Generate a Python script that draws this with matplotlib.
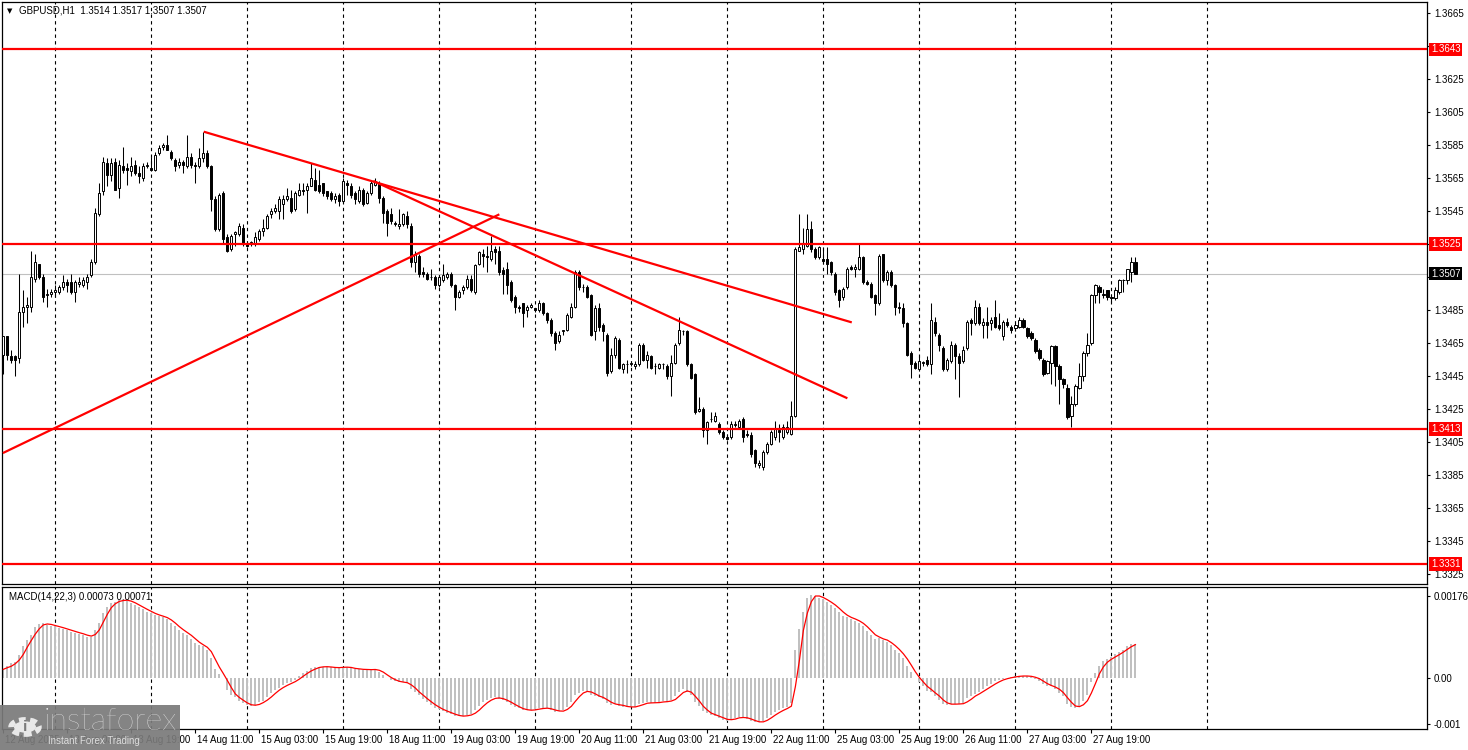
import numpy as np
import pandas as pd
import matplotlib
matplotlib.use('Agg')
import matplotlib.pyplot as plt
import matplotlib.transforms as mtrans
from matplotlib.patches import Rectangle, Circle

plt.rcParams['font.family'] = ['Liberation Sans', 'DejaVu Sans']

# GBPUSD H1, prices as points above 1.3000 (one point = 0.0001)
base = 1.3
open_pts = [
    458, 469, 457, 457, 456, 484, 487, 487, 504, 513, 505, 494, 495, 496, 496, 499, 502, 502, 496, 501,
    500, 502, 506, 514, 543, 557, 574, 567, 575, 559, 572, 571, 569, 573, 568, 565, 572, 571, 570, 580,
    584, 585, 581, 576, 573, 575, 572, 578, 573, 572, 577, 580, 572, 552, 534, 556, 529, 522, 531, 531,
    535, 525, 525, 525, 528, 533, 535, 543, 545, 545, 549, 552, 553, 546, 555, 558, 558, 560, 564, 561,
    562, 557, 556, 552, 555, 551, 562, 560, 556, 551, 558, 550, 556, 561, 562, 553, 545, 543, 538, 536,
    537, 542, 536, 514, 518, 508, 507, 505, 505, 500, 503, 505, 507, 500, 493, 497, 499, 504, 496, 513,
    519, 518, 516, 522, 521, 509, 510, 502, 493, 487, 489, 485, 487, 486, 485, 489, 483, 479, 471, 466,
    472, 473, 481, 487, 508, 499, 499, 494, 472, 486, 476, 470, 448, 458, 467, 449, 452, 452, 451, 452,
    464, 455, 457, 451, 450, 452, 451, 445, 453, 465, 472, 472, 452, 446, 424, 425, 412, 419, 418, 416,
    411, 408, 408, 415, 414, 419, 410, 409, 400, 391, 390, 399, 404, 408, 412, 408, 411, 410, 421, 521,
    522, 524, 534, 522, 517, 516, 516, 514, 507, 497, 493, 499, 511, 510, 510, 517, 502, 501, 494, 489,
    519, 503, 508, 500, 487, 486, 477, 459, 453, 449, 453, 455, 452, 478, 470, 462, 449, 454, 464, 457,
    454, 462, 479, 477, 487, 476, 478, 477, 481, 476, 469, 478, 475, 474, 475, 479, 474, 471, 467, 461,
    455, 447, 453, 463, 451, 443, 438, 421, 428, 438, 445, 459, 465, 494, 499, 494, 497, 493, 492, 496,
    503, 503, 508, 514]
high_pts = [
    469, 469, 461, 458, 507, 497, 493, 521, 519, 513, 507, 498, 498, 500, 500, 506, 504, 507, 503, 505,
    505, 507, 516, 547, 562, 578, 577, 577, 577, 576, 584, 574, 578, 576, 572, 574, 575, 578, 581, 585,
    586, 591, 582, 577, 577, 576, 591, 580, 575, 583, 593, 582, 573, 554, 556, 557, 531, 531, 533, 538,
    537, 527, 527, 532, 534, 540, 543, 547, 549, 554, 555, 559, 558, 557, 562, 562, 562, 574, 571, 570,
    562, 557, 557, 556, 556, 565, 564, 562, 557, 560, 559, 557, 564, 565, 563, 554, 546, 547, 539, 546,
    544, 545, 538, 521, 519, 511, 508, 510, 506, 506, 513, 508, 508, 501, 497, 500, 506, 506, 513, 521,
    522, 524, 530, 524, 524, 511, 514, 503, 494, 488, 489, 488, 489, 486, 491, 490, 484, 480, 472, 472,
    473, 483, 489, 509, 509, 501, 500, 495, 488, 489, 477, 471, 462, 469, 468, 453, 455, 454, 454, 465,
    465, 460, 458, 453, 453, 453, 452, 458, 465, 481, 473, 473, 453, 447, 432, 426, 418, 423, 423, 417,
    412, 410, 418, 418, 419, 420, 412, 411, 401, 394, 400, 405, 412, 418, 416, 416, 418, 430, 523, 543,
    535, 543, 539, 523, 524, 523, 523, 515, 508, 498, 499, 511, 512, 513, 525, 518, 503, 502, 495, 519,
    519, 509, 509, 501, 490, 489, 478, 460, 454, 458, 454, 457, 489, 481, 471, 463, 456, 466, 465, 459,
    463, 479, 480, 491, 489, 480, 487, 481, 491, 483, 479, 480, 476, 477, 481, 480, 475, 472, 468, 462,
    456, 455, 464, 464, 452, 444, 440, 433, 440, 453, 460, 471, 495, 501, 500, 498, 497, 495, 499, 504,
    504, 510, 517, 517]
low_pts = [
    446, 455, 453, 445, 453, 475, 477, 484, 502, 504, 490, 487, 493, 493, 495, 497, 496, 495, 490, 499,
    499, 498, 505, 513, 542, 555, 560, 563, 558, 553, 568, 561, 566, 567, 562, 563, 571, 569, 569, 579,
    582, 582, 576, 569, 571, 568, 571, 571, 562, 571, 575, 571, 545, 533, 533, 525, 520, 521, 524, 530,
    524, 523, 524, 524, 527, 530, 534, 541, 544, 540, 540, 551, 544, 545, 554, 555, 544, 560, 557, 556,
    554, 552, 551, 550, 548, 550, 555, 553, 549, 550, 548, 549, 555, 560, 550, 538, 530, 537, 536, 534,
    536, 535, 511, 508, 505, 505, 503, 503, 498, 499, 502, 504, 499, 485, 492, 495, 498, 496, 495, 512,
    511, 508, 515, 513, 506, 495, 495, 490, 483, 484, 475, 481, 486, 484, 484, 482, 477, 469, 461, 465,
    470, 472, 480, 486, 497, 496, 492, 469, 467, 472, 466, 445, 447, 456, 449, 447, 447, 451, 449, 451,
    454, 450, 449, 446, 449, 449, 443, 433, 452, 464, 470, 451, 443, 422, 423, 408, 404, 417, 417, 410,
    407, 406, 407, 414, 413, 405, 408, 396, 390, 389, 388, 398, 403, 406, 405, 407, 410, 409, 420, 521,
    519, 523, 520, 516, 516, 513, 507, 506, 494, 487, 491, 498, 509, 505, 509, 501, 500, 492, 482, 488,
    502, 500, 499, 482, 483, 475, 457, 444, 449, 448, 451, 451, 446, 469, 460, 448, 448, 453, 443, 432,
    453, 461, 470, 476, 476, 468, 468, 473, 474, 473, 467, 475, 471, 472, 474, 474, 468, 467, 459, 455,
    445, 446, 440, 439, 428, 438, 419, 414, 427, 437, 442, 457, 464, 489, 489, 492, 491, 490, 491, 495,
    496, 501, 502, 507]
close_pts = [
    469, 458, 455, 455, 484, 487, 488, 505, 514, 505, 493, 495, 496, 497, 499, 502, 500, 496, 502, 502,
    503, 505, 514, 544, 556, 575, 567, 574, 558, 573, 570, 570, 572, 568, 566, 572, 573, 570, 579, 583,
    585, 582, 577, 572, 575, 573, 578, 573, 572, 577, 580, 572, 552, 534, 555, 528, 521, 530, 532, 536,
    525, 524, 526, 529, 533, 535, 542, 545, 547, 552, 552, 554, 545, 556, 558, 557, 560, 565, 558, 557,
    556, 554, 552, 554, 551, 563, 561, 555, 552, 558, 549, 556, 562, 563, 553, 544, 538, 539, 537, 537,
    543, 537, 514, 519, 507, 507, 504, 505, 500, 505, 506, 507, 500, 493, 496, 499, 504, 497, 512, 520,
    518, 517, 521, 520, 508, 507, 500, 491, 487, 486, 483, 487, 488, 485, 489, 483, 479, 471, 465, 470,
    473, 482, 487, 508, 499, 499, 493, 470, 486, 475, 472, 447, 458, 468, 450, 452, 452, 453, 452, 464,
    455, 458, 450, 451, 452, 452, 445, 453, 464, 473, 472, 452, 444, 423, 425, 412, 417, 419, 421, 411,
    408, 407, 416, 416, 418, 408, 409, 398, 392, 392, 399, 404, 411, 413, 411, 414, 414, 421, 522, 523,
    525, 534, 522, 517, 523, 515, 513, 508, 496, 491, 498, 510, 510, 511, 517, 502, 501, 493, 489, 518,
    503, 508, 500, 487, 486, 477, 458, 452, 450, 454, 453, 452, 479, 471, 464, 449, 455, 464, 457, 453,
    461, 478, 477, 487, 477, 478, 476, 479, 475, 474, 478, 476, 473, 476, 479, 475, 469, 468, 460, 456,
    446, 454, 463, 451, 443, 440, 420, 428, 439, 445, 459, 464, 494, 500, 496, 495, 493, 492, 497, 503,
    503, 510, 514, 507]

# MACD(14,22,3) main line, units of 0.00001
macd_main = [
    18, 25, 31, 34, 49, 67, 81, 92, 108, 115, 117, 114, 112, 110, 107, 105, 102, 99, 97, 94,
    92, 88, 88, 102, 118, 138, 152, 161, 163, 167, 167, 165, 161, 156, 151, 147, 142, 138, 134, 132,
    130, 125, 117, 110, 102, 97, 92, 84, 75, 70, 67, 59, 42, 18, 9, 0, -26, -37, -41, -49,
    -55, -58, -61, -58, -53, -49, -42, -33, -26, -21, -16, -12, -9, -4, 4,
    10, 14, 20, 22, 24, 24, 23, 22, 21, 22, 24, 22, 20, 18, 19, 17, 17, 18, 18, 12,
    6, 0, -5, -8, -10,
    -10, -12, -24, -30, -38, -45, -52, -58, -64, -68, -72, -75, -78, -82, -83, -82, -80, -78, -70, -60,
    -53, -48, -43, -42, -45, -48, -52, -58, -63, -66, -70,
    -70, -69, -68, -65, -65, -66, -69, -73, -72, -70, -62, -52, -38, -32, -28, -28, -36, -40, -42, -45,
    -55, -58, -56, -60, -62, -63, -63, -62, -56, -55,
    -53, -54, -54, -52, -50, -52, -48, -40, -30, -25, -30, -38, -52, -60, -72, -76, -80, -82, -86, -90,
    -92, -88, -86, -84, -86, -88, -92, -96, -96, -92, -86, -80, -74, -70, -66, -62, -55,
    60, 105, 140, 172, 178, 176, 172, 168, 162, 156, 150, 140, 132, 130, 126, 122, 118, 110, 100, 92,
    84, 86, 80, 76, 70, 60, 52, 42, 26, 12, 0, -10, -18,
    -28, -30, -40, -48, -56, -58, -56, -56, -57, -54, -44, -40, -34, -30, -24, -18, -14, -8, -4, -2,
    0, 2, 3, 4, 4, 3, 2, -2, -6, -14, -18, -18, -24, -32, -40, -56, -62, -64, -60, -50,
    -38, -10, 10, 25, 35, 40, 44, 50, 55, 60, 68, 72, 73]

level_prices = [1.3643, 1.3525, 1.3413, 1.3331]
last_price = 1.3507

# trend lines: (start bar, start price, end bar, end price)
trend_lines = [
    (-0.1, 1.33983, 124.0, 1.35430),
    (50.1, 1.35931, 212.1, 1.34775),
    (92.5, 1.35632, 211.0, 1.34315),
]

tick_bars = [0, 16, 32, 48, 64, 80, 96, 112, 128, 144, 160, 176, 192, 208, 224, 240, 256, 272]
tick_labels = ['12 Aug 2025', '13 Aug 03:00', '13 Aug 19:00', '14 Aug 11:00', '15 Aug 03:00',
               '15 Aug 19:00', '18 Aug 11:00', '19 Aug 03:00', '19 Aug 19:00', '20 Aug 11:00',
               '21 Aug 03:00', '21 Aug 19:00', '22 Aug 11:00', '25 Aug 03:00', '25 Aug 19:00',
               '26 Aug 11:00', '27 Aug 03:00', '27 Aug 19:00']
day_bars = [13, 37, 61, 85, 109, 133, 157, 181, 205, 229, 253, 277, 301]

o = base + np.array(open_pts) / 10000
h = base + np.array(high_pts) / 10000
l = base + np.array(low_pts) / 10000
c = base + np.array(close_pts) / 10000
m = np.array(macd_main) / 100000
signal = pd.Series(m).rolling(3, min_periods=1).mean().values
x = np.arange(len(c))

fs = 7.0
fig = plt.figure(figsize=(14.68, 7.5), dpi=100)
ax = fig.add_axes([0.0017, 0.2213, 0.9704, 0.776])
ax2 = fig.add_axes([0.0017, 0.028, 0.9704, 0.1893])

xlim = (-0.2, 355.9)
for a in (ax, ax2):
    a.set_xlim(*xlim)
    for d in day_bars:
        a.axvline(d, color='black', lw=0.8, ls=(0, (3, 3)), zorder=1)
    for s in a.spines.values():
        s.set_linewidth(0.9)
        s.set_color('black')
    a.yaxis.tick_right()
    a.tick_params(axis='y', direction='out', length=2.5, width=0.8, pad=2.5, labelsize=fs)

# candles
ax.vlines(x, l, h, color='black', lw=0.75, zorder=3)
up = c >= o
body = np.maximum(np.abs(c - o), 0.00002)
ax.bar(x[up], body[up], bottom=o[up], width=0.55, color='white', edgecolor='black', lw=0.7, zorder=4)
ax.bar(x[~up], body[~up], bottom=c[~up], width=0.55, color='black', edgecolor='black', lw=0.7, zorder=4)

ax.axhline(last_price, color='#c0c0c0', lw=0.8, zorder=2)
for lv in level_prices:
    ax.axhline(lv, color='#ff0000', lw=1.6, zorder=5)
for x0, y0, x1, y1 in trend_lines:
    ax.plot([x0, x1], [y0, y1], color='#ff0000', lw=1.6, zorder=5, solid_capstyle='butt')

ax.set_ylim(1.33189, 1.36717)
price_ticks = np.round(np.arange(1.3325, 1.3667, 0.002), 4)
ax.set_yticks(price_ticks)
# ticks hidden behind the level / bid labels
covered = [1.3645, 1.3525, 1.3505]
ax.set_yticklabels(['' if any(abs(t - cv) < 1e-6 for cv in covered) else f'{t:.4f}' for t in price_ticks])
ax.set_xticks([])

tr = mtrans.blended_transform_factory(ax.transAxes, ax.transData)
for lv in level_prices:
    ax.text(1.0027, lv, f'{lv:.4f}', transform=tr, color='white', fontsize=fs, va='center', ha='left',
            zorder=10, clip_on=False,
            bbox=dict(boxstyle='square,pad=0.18', fc='#ff0000', ec='none'))
ax.text(1.0027, last_price, f'{last_price:.4f}', transform=tr, color='white', fontsize=fs, va='center',
        ha='left', zorder=10, clip_on=False,
        bbox=dict(boxstyle='square,pad=0.18', fc='black', ec='none'))

ax.text(0.0035, 0.985, '\u25bc', transform=ax.transAxes, fontsize=5, va='center', ha='left',
        family=['DejaVu Sans'])
ax.text(0.0115, 0.985, 'GBPUSD,H1  %.4f %.4f %.4f %.4f' % (o[-1], h[-1], l[-1], c[-1]),
        transform=ax.transAxes, fontsize=fs, va='center', ha='left')

# MACD panel
ax2.bar(x, m, width=0.5, color='#c0c0c0', zorder=2)
ax2.plot(x, signal, color='#ff0000', lw=0.9, zorder=3)
ax2.set_ylim(-0.00110, 0.001946)
ax2.set_yticks([0.00176, 0.0, -0.001])
ax2.set_yticklabels(['0.00176', '0.00', '-0.001'])
ax2.text(0.0048, 0.93, 'MACD(14,22,3) %.5f %.5f' % (m[-1], signal[-1]), transform=ax2.transAxes,
         fontsize=fs, va='center', ha='left')
ax2.set_xticks(tick_bars)
ax2.set_xticklabels(tick_labels, fontsize=fs)
ax2.tick_params(axis='x', direction='out', length=3, width=0.8, pad=1.5)
shift = mtrans.ScaledTranslation(2 / 100, 0, fig.dpi_scale_trans)
for lbl in ax2.get_xticklabels():
    lbl.set_horizontalalignment('left')
    lbl.set_transform(lbl.get_transform() + shift)

# watermark
fig.add_artist(Rectangle((0, 0), 180 / 1468, 45 / 750, transform=fig.transFigure,
                         fc='#7a7a7a', ec='none', alpha=0.92, zorder=20))
gx, gy = 25 / 1468, 1 - 727 / 750
fig.add_artist(Circle((gx, gy), 0.0095, transform=fig.transFigure, fc='none', ec='#e8e8e8',
                      lw=4, ls=(0, (1.2, 0.8)), zorder=21))
fig.add_artist(Circle((gx, gy), 0.0075, transform=fig.transFigure, fc='#e8e8e8', ec='none', zorder=21))
fig.text(gx, gy, 'i', color='#7a7a7a', fontsize=11, fontweight='bold', ha='center', va='center', zorder=22)
fig.text(44 / 1468, 1 - 722 / 750, 'instaforex', color='#f2f2f2', fontsize=23, ha='left', va='center',
         family=['Lato', 'Liberation Sans'], fontweight='light', zorder=22)
fig.text(48 / 1468, 1 - 741 / 750, 'Instant Forex Trading', color='#dddddd', fontsize=7, ha='left',
         va='center', zorder=22)

fig.savefig('out.png', dpi=100, facecolor='white')
